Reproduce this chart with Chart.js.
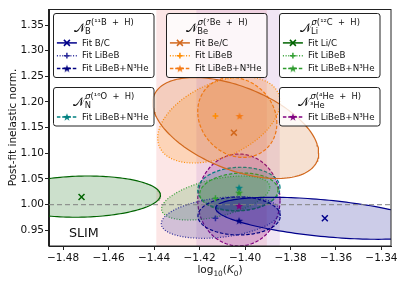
<!DOCTYPE html>
<html>
<head>
<meta charset="utf-8">
<script src="https://cdn.jsdelivr.net/npm/chart.js@4.4.0/dist/chart.umd.min.js"></script>
<style>
  html, body { margin: 0; padding: 0; background: #fff; }
  canvas { display: block; }
</style>
</head>
<body>
<canvas id="myChart" width="403" height="284"></canvas>
<script>
// axes
var xTicks = [-1.48, -1.46, -1.44, -1.42, -1.40, -1.38, -1.36, -1.34];
var yTicks = [0.95, 1.00, 1.05, 1.10, 1.15, 1.20, 1.25, 1.30, 1.35];
var xRange = [-1.4862, -1.3358];
var yRange = [0.9194, 1.3812];
var refLine = 1.0;

// shaded log10(K0) ranges
var bandLo = [-1.4390, -1.4214];
var bandHi = [-1.3904, -1.3847];

// fits: B/C, LiBeB, LiBeB+N3He for B, Be, Li, then N and 3He
var fitLabels = ["Fit B/C", "Fit LiBeB", "Fit LiBeB+N³He",
                 "Fit Be/C", "Fit LiBeB", "Fit LiBeB+N³He",
                 "Fit Li/C", "Fit LiBeB", "Fit LiBeB+N³He",
                 "Fit LiBeB+N³He", "Fit LiBeB+N³He"];
var fitX = [-1.3649, -1.4130, -1.4026, -1.4049, -1.4130, -1.4024, -1.4719, -1.4130, -1.4026, -1.4026, -1.4026];
var fitY = [0.9734, 0.9734, 0.9687, 1.1402, 1.1727, 1.1727, 1.0149, 1.0124, 1.0233, 1.0330, 0.9973];

// 1 sigma contours: centre, half extent in x and y, tilt
var ellCx = [-1.3649, -1.4107, -1.4026, -1.4041, -1.4115, -1.4034, -1.4719, -1.4129, -1.4027, -1.4027, -1.4027];
var ellCy = [0.9734, 0.9749, 0.9779, 1.1493, 1.1649, 1.1698, 1.0156, 1.0129, 1.0246, 1.0305, 1.0090];
var ellHx = [0.0480, 0.0261, 0.0181, 0.0365, 0.0269, 0.0174, 0.0347, 0.0238, 0.0172, 0.0181, 0.0181];
var ellHy = [0.0409, 0.0405, 0.0370, 0.0984, 0.0838, 0.0779, 0.0402, 0.0429, 0.0370, 0.0423, 0.0896];
var ellTilt = [-0.50, 0.30, 0.00, -0.52, 0.43, -0.15, 0.08, 0.52, 0.10, 0.05, 0.00];

var fitColor = ["#00008b", "#2a2a9a", "#000080",
                "#d2691e", "#ff8c00", "#f57a15",
                "#006400", "#32a032", "#2e9b2e",
                "#008080", "#800080"];
var DOT = [1, 1.7], DASH = [3.5, 1.8];
var fitDash = [[], DOT, DASH, [], DOT, DASH, [], DOT, DASH, DASH, DASH];
var fitMarker = ["x", "+", "*", "x", "+", "*", "x", "+", "*", "*", "*"];

var FONT = '"DejaVu Sans", sans-serif';

function rgba(hex, a) {
  var n = parseInt(hex.slice(1), 16);
  return "rgba(" + (n >> 16) + "," + ((n >> 8) & 255) + "," + (n & 255) + "," + a + ")";
}

function starCanvas(color) {
  var c = document.createElement("canvas");
  c.width = 10; c.height = 10;
  var g = c.getContext("2d");
  g.beginPath();
  for (var k = 0; k < 10; k++) {
    var r = k % 2 ? 1.7 : 4.2;
    var a = -Math.PI / 2 + k * Math.PI / 5;
    g.lineTo(5 + r * Math.cos(a), 5.4 + r * Math.sin(a));
  }
  g.closePath();
  g.fillStyle = color;
  g.fill();
  return c;
}
var stars = fitColor.map(starCanvas);

function ellipsePoints(i) {
  var pts = [];
  for (var k = 0; k <= 160; k++) {
    var t = 2 * Math.PI * k / 160;
    pts.push({x: ellCx[i] + ellHx[i] * Math.cos(t),
              y: ellCy[i] + ellHy[i] * Math.sin(t + ellTilt[i])});
  }
  return pts;
}

var datasets = [];
for (var i = 0; i < fitX.length; i++) {
  var m = fitMarker[i];
  datasets.push({
    data: [{x: fitX[i], y: fitY[i]}],
    pointStyle: m == "x" ? "crossRot" : m == "+" ? "cross" : stars[i],
    pointRadius: m == "x" ? 4.2 : 2.9,
    pointBorderColor: fitColor[i],
    pointBackgroundColor: fitColor[i],
    pointBorderWidth: 1.5,
    order: 0
  });
}
datasets.push({
  data: [{x: xRange[0], y: refLine}, {x: xRange[1], y: refLine}],
  showLine: true, pointRadius: 0,
  borderColor: "rgba(128,128,128,0.8)", borderWidth: 1.2, borderDash: [5, 3],
  order: 1
});
for (var i = 0; i < fitX.length; i++) {
  datasets.push({
    data: ellipsePoints(i),
    showLine: true, pointRadius: 0, tension: 0,
    fill: "shape",
    borderColor: fitColor[i], backgroundColor: rgba(fitColor[i], 0.2),
    borderWidth: 1.2, borderDash: fitDash[i],
    order: 2 + i
  });
}

function drawMarker(c, kind, x, y, i) {
  c.save();
  c.setLineDash([]);
  c.strokeStyle = fitColor[i];
  c.lineWidth = 1.5;
  c.beginPath();
  if (kind == "x") {
    c.moveTo(x - 3, y - 3); c.lineTo(x + 3, y + 3);
    c.moveTo(x + 3, y - 3); c.lineTo(x - 3, y + 3);
    c.stroke();
  } else if (kind == "+") {
    c.moveTo(x - 2.9, y); c.lineTo(x + 2.9, y);
    c.moveTo(x, y - 2.9); c.lineTo(x, y + 2.9);
    c.stroke();
  } else {
    c.drawImage(stars[i], x - 5, y - 5);
  }
  c.restore();
}

var legendBoxes = [
  {fits: [0, 1, 2], sup: "(¹¹B  +  H)", sub: "B", left: 53.5, top: 13.5, w: 100.5, h: 64},
  {fits: [3, 4, 5], sup: "(⁷Be  +  H)", sub: "Be", left: 166.5, top: 13.5, w: 100.5, h: 64},
  {fits: [6, 7, 8], sup: "(¹²C  +  H)", sub: "Li", left: 279.5, top: 13.5, w: 100.5, h: 64},
  {fits: [9], sup: "(¹⁶O  +  H)", sub: "N", left: 53.5, top: 87.5, w: 100.5, h: 38.5},
  {fits: [10], sup: "(⁴He  +  H)", sub: "³He", left: 279.5, top: 87.5, w: 100.5, h: 38.5}
];

function drawNTitle(c, cx, base, sup, sub) {
  var mainFont = "12px " + FONT, supFont = "8.4px " + FONT, supIt = "italic 8.4px " + FONT;
  c.font = mainFont; var wm = c.measureText("𝒩").width;
  c.font = supIt; var ws = c.measureText("σ").width;
  c.font = supFont; var wr = c.measureText(sup).width; var wb = c.measureText(sub).width;
  var total = wm + Math.max(ws + wr, wb);
  var x0 = cx - total / 2;
  c.fillStyle = "#111";
  c.textBaseline = "alphabetic";
  c.textAlign = "left";
  c.font = mainFont; c.fillText("𝒩", x0, base);
  c.font = supIt; c.fillText("σ", x0 + wm, base - 7);
  c.font = supFont; c.fillText(sup, x0 + wm + ws, base - 7);
  c.fillText(sub, x0 + wm - 0.5, base + 2.3);
}

var decorations = {
  id: "decorations",
  beforeDatasetsDraw: function(chart) {
    var c = chart.ctx, a = chart.chartArea, xs = chart.scales.x;
    var bandColor = ["rgba(240,128,128,0.2)", "rgba(200,150,210,0.25)"];
    c.save();
    for (var b = 0; b < bandLo.length; b++) {
      var x1 = xs.getPixelForValue(bandLo[b]), x2 = xs.getPixelForValue(bandHi[b]);
      c.fillStyle = bandColor[b];
      c.fillRect(x1, a.top, x2 - x1, a.bottom - a.top);
    }
    c.restore();
  },
  afterDatasetsDraw: function(chart) {
    var c = chart.ctx, a = chart.chartArea;
    c.save();
    c.strokeStyle = "#222"; c.lineWidth = 1;
    c.strokeRect(Math.round(a.left) - 0.5, Math.round(a.top) + 0.5,
                 Math.round(a.right - a.left) + 0.5, Math.round(a.bottom - a.top) - 0.5);
    c.fillStyle = "#111";
    c.font = "12.7px " + FONT;
    c.textBaseline = "alphabetic";
    c.fillText("SLIM", 69, 236.7);

    legendBoxes.forEach(function(bx) {
      c.beginPath();
      c.roundRect(bx.left, bx.top, bx.w, bx.h, 2.5);
      c.fillStyle = "rgba(255,255,255,0.8)";
      c.fill();
      c.strokeStyle = "#222"; c.lineWidth = 1;
      c.stroke();
      drawNTitle(c, bx.left + bx.w / 2, bx.top + 18, bx.sup, bx.sub);
      bx.fits.forEach(function(f, j) {
        var y = bx.top + 29.4 + j * 12.8;
        c.save();
        c.strokeStyle = fitColor[f]; c.lineWidth = 1.5;
        c.setLineDash(fitDash[f]);
        c.beginPath(); c.moveTo(bx.left + 3.4, y); c.lineTo(bx.left + 23.4, y); c.stroke();
        c.restore();
        drawMarker(c, fitMarker[f], bx.left + 13.4, y, f);
        c.fillStyle = "#111";
        c.font = "8.7px " + FONT;
        c.textBaseline = "middle";
        c.fillText(fitLabels[f], bx.left + 28.4, y + 0.5);
      });
    });
    c.restore();
  },
  afterDraw: function(chart) {
    // x axis title: log10(K0)
    var c = chart.ctx, a = chart.chartArea;
    var parts = [["log", "10.5px "], ["10", "7.4px ", 2.6], ["(", "10.5px "], ["K", "italic 10.5px "],
                 ["0", "7.4px ", 2.6], [")", "10.5px "]];
    var total = 0;
    parts.forEach(function(p) { c.font = p[1] + FONT; p.w = c.measureText(p[0]).width; total += p.w; });
    var x = (a.left + a.right) / 2 - total / 2, base = 273;
    c.save();
    c.fillStyle = "#111";
    c.textBaseline = "alphabetic";
    parts.forEach(function(p) {
      c.font = p[1] + FONT;
      c.fillText(p[0], x, base + (p[2] || 0));
      x += p.w;
    });
    c.restore();
  }
};

function tickFmt(v) {
  return (v < 0 ? "\u2212" : "") + Math.abs(v).toFixed(2);
}

new Chart("myChart", {
  type: "scatter",
  data: { datasets: datasets },
  options: {
    responsive: false,
    animation: false,
    layout: { padding: { top: 9, right: 12, left: 0, bottom: 0 } },
    plugins: { legend: { display: false }, tooltip: { enabled: false } },
    scales: {
      x: {
        min: xRange[0], max: xRange[1],
        afterBuildTicks: function(s) { s.ticks = xTicks.map(function(v) { return {value: v}; }); },
        afterFit: function(s) { s.height = 38; },
        grid: { drawOnChartArea: false, drawTicks: true, tickLength: 4, color: "#222" },
        border: { color: "#222" },
        ticks: { color: "#111", font: { family: "DejaVu Sans", size: 10.5 }, padding: 1.5,
                 maxRotation: 0, autoSkip: false, callback: tickFmt }
      },
      y: {
        min: yRange[0], max: yRange[1],
        afterBuildTicks: function(s) { s.ticks = yTicks.map(function(v) { return {value: v}; }); },
        afterFit: function(s) { s.width = 49; },
        grid: { drawOnChartArea: false, drawTicks: true, tickLength: 4, color: "#222" },
        border: { color: "#222" },
        title: { display: true, text: "Post-fit inelastic norm.", color: "#111",
                 font: { family: "DejaVu Sans", size: 10.5 }, padding: { top: 6.5, bottom: 0 } },
        ticks: { color: "#111", font: { family: "DejaVu Sans", size: 10.5 }, padding: 1,
                 callback: tickFmt }
      }
    }
  },
  plugins: [decorations]
});
</script>
</body>
</html>
